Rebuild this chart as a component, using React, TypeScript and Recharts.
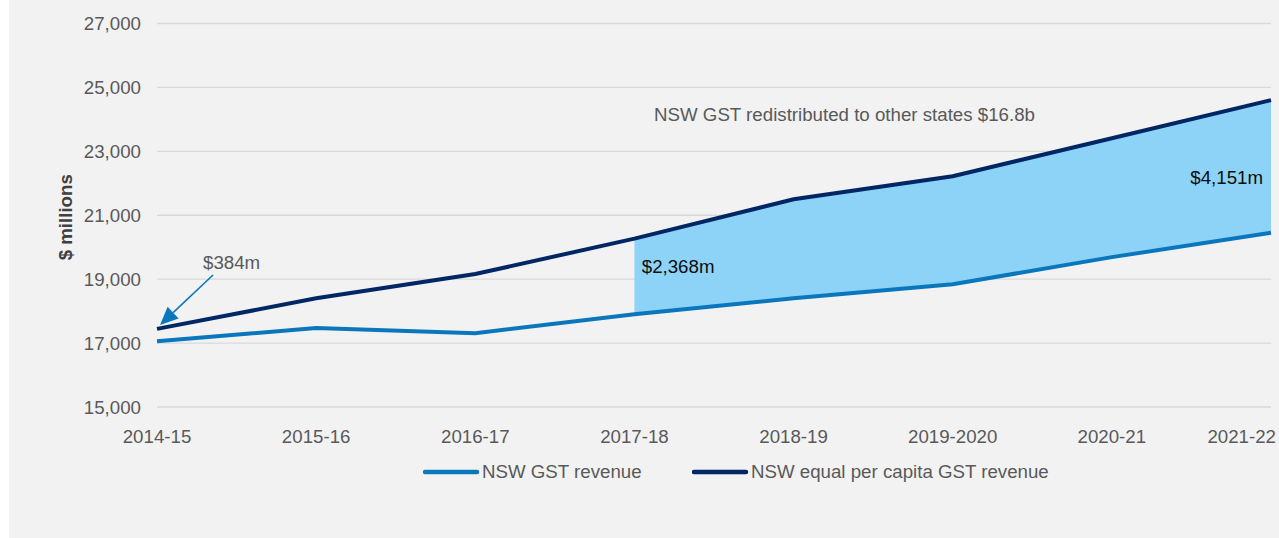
import {
  ComposedChart,
  Line,
  Area,
  XAxis,
  YAxis,
  CartesianGrid,
  ReferenceDot,
  ReferenceLine,
} from "recharts";

const years = ["2014-15", "2015-16", "2016-17", "2017-18", "2018-19", "2019-2020", "2020-21", "2021-22"];
const gstRevenue = [17060, 17470, 17310, 17900, 18400, 18840, 19690, 20450];
const equalPerCapita = [17444, 18400, 19160, 20268, 21500, 22220, 23410, 24601];
const bandFrom = 3; // redistributed band shaded from 2017-18 on
const yTicks = [15000, 17000, 19000, 21000, 23000, 25000, 27000];

const LIGHT = "#0a77bd";
const DARK = "#002664";
const FILL = "#8dd3f7";
const TEXT = "#595959";
const FONT = "'Liberation Sans', Arial, sans-serif";
const FS = 18.7;

const data = years.map((y, i) => ({
  i,
  year: y,
  gst: gstRevenue[i],
  equal: equalPerCapita[i],
  band: i >= bandFrom ? [gstRevenue[i], equalPerCapita[i]] : null,
}));

const fmt = (v: number) => String(v).replace(/\B(?=(\d{3})+(?!\d))/g, ",");

function XTick(props: any) {
  const { x, y, payload } = props;
  const last = payload.value === years.length - 1;
  return (
    <text
      x={last ? x + 5 : x}
      y={y + 36}
      textAnchor={last ? "end" : "middle"}
      fill={TEXT}
      fontSize={FS}
      fontFamily={FONT}
    >
      {years[payload.value]}
    </text>
  );
}

function Arrow(props: any) {
  const { x1, y1, x2, y2 } = props;
  const ang = Math.atan2(y2 - y1, x2 - x1);
  const len = 18;
  const half = 8;
  const bx = x2 - len * Math.cos(ang);
  const by = y2 - len * Math.sin(ang);
  const px = -Math.sin(ang) * half;
  const py = Math.cos(ang) * half;
  return (
    <g>
      <line x1={x1} y1={y1} x2={bx} y2={by} stroke={LIGHT} strokeWidth={1.6} />
      <polygon points={`${x2},${y2} ${bx + px},${by + py} ${bx - px},${by - py}`} fill={LIGHT} />
    </g>
  );
}

const YLabel = (props: any) => {
  const vb = props.viewBox;
  const cx = 65 - 9;
  const cy = vb.y + vb.height / 2 + 2;
  return (
    <text
      x={cx}
      y={cy}
      transform={`rotate(-90 ${cx} ${cy})`}
      textAnchor="middle"
      dominantBaseline="central"
      fill="#404040"
      fontSize={FS}
      fontWeight="bold"
      fontFamily={FONT}
    >
      $ millions
    </text>
  );
};

const legendItems = [
  { name: "NSW GST revenue", color: LIGHT, left: 414 },
  { name: "NSW equal per capita GST revenue", color: DARK, left: 683 },
];

export default function App() {
  return (
    <div
      style={{
        position: "absolute",
        left: 9,
        top: 0,
        width: 1270,
        height: 538,
        background: "#f2f2f2",
        fontFamily: FONT,
      }}
    >
      <ComposedChart
        width={1270}
        height={460}
        data={data}
        margin={{ top: 23.5, right: 8, left: 60, bottom: 0 }}
      >
        <CartesianGrid vertical={false} stroke="#d9d9d9" strokeWidth={1.3} />
        <XAxis
          type="number"
          dataKey="i"
          domain={[0, 7]}
          ticks={[0, 1, 2, 3, 4, 5, 6, 7]}
          axisLine={false}
          tickLine={false}
          tickSize={0}
          tickMargin={0}
          height={53}
          interval={0}
          tick={<XTick />}
        />
        <YAxis
          domain={[15000, 27000]}
          ticks={yTicks}
          width={88}
          axisLine={false}
          tickLine={false}
          tickSize={0}
          tickMargin={16}
          tickFormatter={fmt}
          tick={{ fill: TEXT, fontSize: FS, fontFamily: FONT }}
          label={{ content: <YLabel /> }}
        />
        <Area
          dataKey="band"
          type="linear"
          fill={FILL}
          fillOpacity={1}
          stroke="none"
          isAnimationActive={false}
        />
        <Line
          dataKey="gst"
          type="linear"
          stroke={LIGHT}
          strokeWidth={4}
          dot={false}
          isAnimationActive={false}
        />
        <Line
          dataKey="equal"
          type="linear"
          stroke={DARK}
          strokeWidth={4}
          dot={false}
          isAnimationActive={false}
        />
        <ReferenceLine
          segment={[
            { x: 0.352, y: 19130 },
            { x: 0.019, y: 17566 },
          ]}
          shape={<Arrow />}
        />
        <ReferenceDot
          x={4.32}
          y={24168}
          r={0}
          fill="none"
          stroke="none"
          label={{ value: "NSW GST redistributed to other states $16.8b", position: "center", fill: TEXT, fontSize: FS, fontFamily: FONT }}
        />
        <ReferenceDot
          x={0.289}
          y={19537}
          r={0}
          fill="none"
          stroke="none"
          label={{ value: "$384m", position: "right", offset: 0, fill: TEXT, fontSize: FS, fontFamily: FONT }}
        />
        <ReferenceDot
          x={3.046}
          y={19390}
          r={0}
          fill="none"
          stroke="none"
          label={{ value: "$2,368m", position: "right", offset: 0, fill: "#0d0d0d", fontSize: FS, fontFamily: FONT }}
        />
        <ReferenceDot
          x={6.95}
          y={22197}
          r={0}
          fill="none"
          stroke="none"
          label={{ value: "$4,151m", position: "left", offset: 0, fill: "#0d0d0d", fontSize: FS, fontFamily: FONT }}
        />
      </ComposedChart>
      {legendItems.map((it) => (
        <div
          key={it.name}
          style={{
            position: "absolute",
            left: it.left,
            top: 460,
            height: 24,
            display: "flex",
            alignItems: "center",
            color: TEXT,
            fontSize: FS,
            whiteSpace: "nowrap",
          }}
        >
          <svg width={60} height={10} style={{ display: "block" }}>
            <line x1={2} y1={5} x2={54} y2={5} stroke={it.color} strokeWidth={4.5} strokeLinecap="round" />
          </svg>
          <span style={{ marginLeft: -1 }}>{it.name}</span>
        </div>
      ))}
    </div>
  );
}
